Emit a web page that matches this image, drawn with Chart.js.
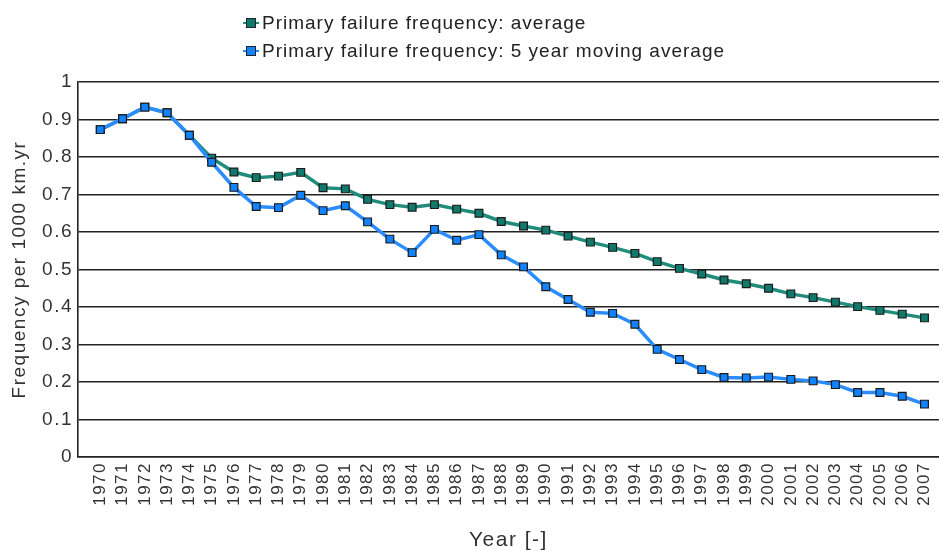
<!DOCTYPE html>
<html>
<head>
<meta charset="utf-8">
<script src="https://cdn.jsdelivr.net/npm/chart.js@4.4.1/dist/chart.umd.min.js"></script>
<style>
  html, body { margin: 0; padding: 0; background: #fff; overflow: hidden; }
  #wrap { position: relative; width: 943px; height: 551px; overflow: hidden; }
  #legend { position: absolute; left: 243px; top: 9px; font-family: "Liberation Sans", Arial, sans-serif; font-size: 19px; letter-spacing: 1px; color: #222; line-height: 28px; }
  .row { display: flex; align-items: center; }
  .mk { position: relative; width: 16px; height: 12px; margin-right: 3px; }
  .mk i { position: absolute; left: 0; right: 0; top: 5px; height: 2px; }
  .mk b { position: absolute; left: 3px; top: 1px; width: 8px; height: 8px; border: 1px solid #222; }
</style>
</head>
<body>
<div id="wrap">
  <!-- a bit wider than the window: the plot in the original runs off the right edge -->
  <canvas id="chart" width="950" height="551"></canvas>
  <div id="legend"></div>
</div>
<script>
const years = [1970, 1971, 1972, 1973, 1974, 1975, 1976, 1977, 1978, 1979,
               1980, 1981, 1982, 1983, 1984, 1985, 1986, 1987, 1988, 1989,
               1990, 1991, 1992, 1993, 1994, 1995, 1996, 1997, 1998, 1999,
               2000, 2001, 2002, 2003, 2004, 2005, 2006, 2007];

const average = [0.873, 0.902, 0.933, 0.918, 0.858, 0.797, 0.760, 0.745, 0.749, 0.759,
                 0.718, 0.715, 0.687, 0.673, 0.666, 0.673, 0.661, 0.650, 0.628, 0.616,
                 0.605, 0.589, 0.573, 0.559, 0.543, 0.521, 0.503, 0.488, 0.472, 0.462,
                 0.450, 0.435, 0.425, 0.413, 0.401, 0.391, 0.381, 0.371];

const movingAvg = [0.873, 0.902, 0.933, 0.918, 0.858, 0.786, 0.719, 0.668, 0.665, 0.698,
                   0.657, 0.670, 0.627, 0.581, 0.545, 0.607, 0.578, 0.593, 0.539, 0.507,
                   0.454, 0.420, 0.386, 0.383, 0.354, 0.287, 0.260, 0.233, 0.212, 0.211,
                   0.213, 0.207, 0.203, 0.193, 0.172, 0.172, 0.162, 0.141];

const yTicks = [0, 0.1, 0.2, 0.3, 0.4, 0.5, 0.6, 0.7, 0.8, 0.9, 1];

const seriesNames = ['Primary failure frequency: average', 'Primary failure frequency: 5 year moving average'];
const lineColors = ['#1f8c7c', '#2a8cff'];
const pointColors = ['#0f7a6c', '#1283ff'];

// legend in html so the two rows sit left aligned like the original
document.getElementById('legend').innerHTML = seriesNames.map((name, i) =>
  `<div class="row"><span class="mk"><i style="background:${lineColors[i]}"></i><b style="background:${pointColors[i]}"></b></span>${name}</div>`
).join('');

const font = "'Liberation Sans', Arial, sans-serif";

// the original text is set quite loose, canvas letterSpacing gets close
const spacing = {
  id: 'spacing',
  beforeUpdate: c => { c.ctx.letterSpacing = '1.5px'; },
  beforeDraw: c => { c.ctx.letterSpacing = '1.5px'; }
};

const pts = vals => years.map((yr, i) => ({ x: yr, y: vals[i] }));

new Chart(document.getElementById('chart'), {
  type: 'line',
  data: {
    datasets: [
      {
        label: seriesNames[1],
        data: pts(movingAvg),
        borderColor: lineColors[1],
        borderWidth: 3.5,
        pointStyle: 'rect',
        pointRadius: 5.5,
        pointBackgroundColor: pointColors[1],
        pointBorderColor: '#1a1a1a',
        pointBorderWidth: 1.2,
        tension: 0
      },
      {
        label: seriesNames[0],
        data: pts(average),
        borderColor: lineColors[0],
        borderWidth: 3.5,
        pointStyle: 'rect',
        pointRadius: 5.5,
        pointBackgroundColor: pointColors[0],
        pointBorderColor: '#1a1a1a',
        pointBorderWidth: 1.2,
        tension: 0
      }
    ]
  },
  plugins: [spacing],
  options: {
    responsive: false,
    animation: false,
    layout: { padding: { top: 82, right: 0, left: 0, bottom: 0 } },
    plugins: { legend: { display: false }, tooltip: { enabled: false } },
    scales: {
      x: {
        type: 'linear',
        min: 1969, max: 2007.65,
        afterBuildTicks: s => { s.ticks = years.map(v => ({ value: v })); },
        grid: { display: false, drawTicks: false },
        border: { color: '#222', width: 1.5 },
        ticks: {
          color: '#333', font: { family: font, size: 17 },
          minRotation: 90, maxRotation: 90, autoSkip: false, padding: 5,
          callback: v => String(v)
        },
        title: { display: true, text: 'Year [-]', color: '#333', font: { family: font, size: 21 }, padding: { top: 4, bottom: -2 } },
        afterFit: s => { s.height = 94; }
      },
      y: {
        min: 0, max: 1,
        afterBuildTicks: s => { s.ticks = yTicks.map(v => ({ value: v })); },
        grid: { color: '#222', lineWidth: 1.6, drawTicks: false },
        border: { color: '#222', width: 1.6 },
        ticks: {
          color: '#333', font: { family: font, size: 19 }, padding: 5,
          callback: v => String(Math.round(v * 10) / 10)
        },
        title: { display: true, text: 'Frequency per 1000 km.yr', color: '#333', font: { family: font, size: 19 }, padding: { top: 8, bottom: 0 } },
        afterFit: s => { s.width = 78; }
      }
    }
  }
});
</script>
</body>
</html>
